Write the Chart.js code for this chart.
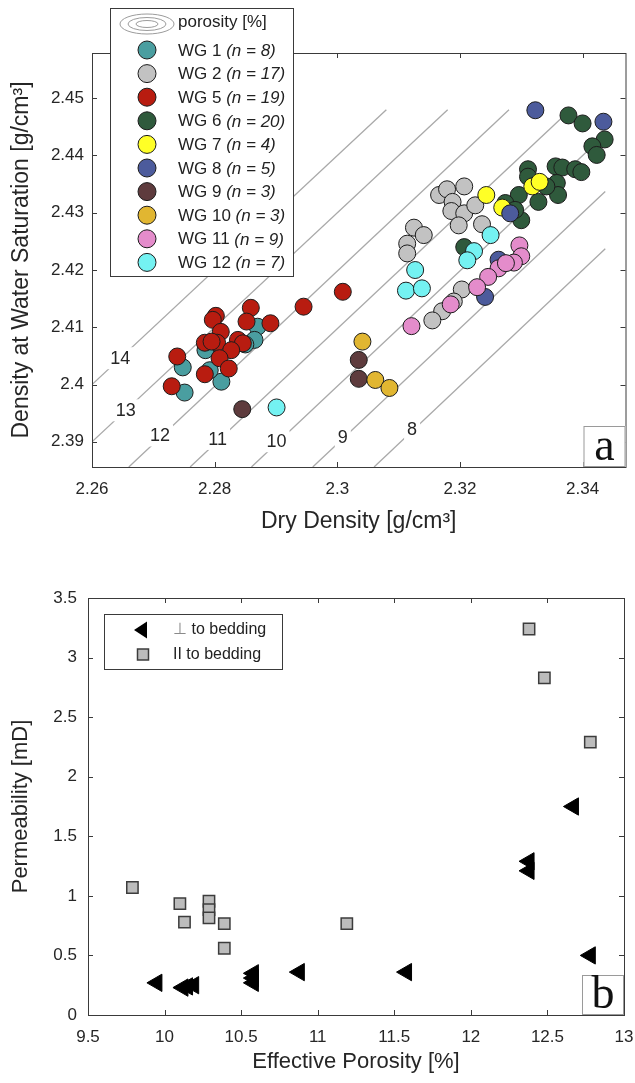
<!DOCTYPE html>
<html>
<head>
<meta charset="utf-8">
<script src="https://cdn.jsdelivr.net/npm/chart.js@4.4.0/dist/chart.umd.min.js"></script>
<style>
  body { margin: 0; background: #fff; }
  .box { position: absolute; left: 0; width: 635px; }
</style>
</head>
<body>
<div class="box" style="top:0;height:540px"><canvas id="densChart"></canvas></div>
<div class="box" style="top:540px;height:543px"><canvas id="permChart"></canvas></div>
<script>
// ---- panel a: densities ----
var xTicksTop = [2.26, 2.28, 2.30, 2.32, 2.34];
var yTicksTop = [2.39, 2.40, 2.41, 2.42, 2.43, 2.44, 2.45];

var wg1X = [2.2870, 2.2865, 2.2785, 2.2748, 2.2751, 2.2811, 2.2792, 2.2850];
var wg1Y = [2.4101, 2.4078, 2.4060, 2.4030, 2.3986, 2.4005, 2.4025, 2.4070];
var wg2X = [2.3166, 2.3179, 2.3207, 2.3188, 2.3186, 2.3207, 2.3198, 2.3225, 2.3236, 2.3125, 2.3141, 2.3114, 2.3114, 2.3203, 2.3171, 2.3155, 2.3190];
var wg2Y = [2.4331, 2.4341, 2.4346, 2.4319, 2.4303, 2.4299, 2.4278, 2.4313, 2.4280, 2.4274, 2.4261, 2.4246, 2.4229, 2.4166, 2.4128, 2.4112, 2.4145];
var wg5X = [2.3009, 2.2945, 2.2859, 2.2802, 2.2797, 2.2852, 2.2891, 2.2810, 2.2784, 2.2804, 2.2838, 2.2846, 2.2827, 2.2808, 2.2739, 2.2823, 2.2784, 2.2730, 2.2795];
var wg5Y = [2.4162, 2.4136, 2.4134, 2.4120, 2.4113, 2.4110, 2.4107, 2.4092, 2.4073, 2.4073, 2.4078, 2.4072, 2.4060, 2.4046, 2.4049, 2.4028, 2.4018, 2.3997, 2.4075];
var wg6X = [2.3377, 2.3400, 2.3436, 2.3416, 2.3423, 2.3311, 2.3356, 2.3367, 2.3388, 2.3398, 2.3358, 2.3360, 2.3296, 2.3328, 2.3274, 2.3300, 2.3207, 2.3341, 2.3311, 2.3290];
var wg6Y = [2.4470, 2.4456, 2.4428, 2.4416, 2.4401, 2.4376, 2.4381, 2.4379, 2.4376, 2.4371, 2.4352, 2.4331, 2.4331, 2.4319, 2.4317, 2.4287, 2.4240, 2.4346, 2.4363, 2.4305];
var wg7X = [2.3243, 2.3269, 2.3318, 2.3330];
var wg7Y = [2.4331, 2.4309, 2.4346, 2.4354];
var wg8X = [2.3323, 2.3434, 2.3282, 2.3263, 2.3241];
var wg8Y = [2.4479, 2.4459, 2.4299, 2.4218, 2.4153];
var wg9X = [2.2845, 2.3035, 2.3035];
var wg9Y = [2.3957, 2.4043, 2.4010];
var wg10X = [2.3041, 2.3062, 2.3085];
var wg10Y = [2.4075, 2.4008, 2.3994];
var wg11X = [2.3297, 2.3300, 2.3288, 2.3263, 2.3246, 2.3228, 2.3185, 2.3121, 2.3275];
var wg11Y = [2.4243, 2.4224, 2.4213, 2.4203, 2.4188, 2.4170, 2.4140, 2.4102, 2.4212];
var wg12X = [2.2901, 2.3127, 2.3112, 2.3138, 2.3250, 2.3223, 2.3212];
var wg12Y = [2.3960, 2.4200, 2.4164, 2.4168, 2.4261, 2.4233, 2.4217];

var groupNames = ['WG 1', 'WG 2', 'WG 5', 'WG 6', 'WG 7', 'WG 8', 'WG 9', 'WG 10', 'WG 11', 'WG 12'];
var groupN = [8, 17, 19, 20, 4, 5, 3, 3, 9, 7];
var groupColors = ['#4a9ea0', '#c2c2c2', '#b81c10', '#2f5a3c', '#ffff26', '#4c5b9c', '#5e3b3d', '#e1b631', '#e48ccb', '#74f2f2'];
var groupX = [wg1X, wg2X, wg5X, wg6X, wg7X, wg8X, wg9X, wg10X, wg11X, wg12X];
var groupY = [wg1Y, wg2Y, wg5Y, wg6Y, wg7Y, wg8Y, wg9Y, wg10Y, wg11Y, wg12Y];

// porosity contours
var contourLevels = [8, 9, 10, 11, 12, 13, 14];
var contourStartX = [2.3060, 2.2960, 2.2860, 2.2760, 2.2660, 2.2600, 2.2600];
var contourStartY = [2.3856, 2.3856, 2.3856, 2.3856, 2.3856, 2.3900, 2.4000];
var contourEndX = [2.3437, 2.3437, 2.3437, 2.3380, 2.3280, 2.3180, 2.3080];
var contourEndY = [2.4237, 2.4337, 2.4437, 2.4480, 2.4480, 2.4480, 2.4480];
var contourLabelX = [2.3122, 2.3009, 2.2901, 2.2805, 2.2711, 2.2655, 2.2646];
var contourLabelY = [2.3922, 2.3909, 2.3901, 2.3905, 2.3911, 2.3955, 2.4046];

// ---- panel b: permeability ----
var xTicksBot = [9.5, 10, 10.5, 11, 11.5, 12, 12.5, 13];
var yTicksBot = [0, 0.5, 1, 1.5, 2, 2.5, 3, 3.5];
var perpX = [9.95, 10.12, 10.15, 10.19, 10.58, 10.58, 10.58, 10.88, 11.58, 12.38, 12.38, 12.67, 12.78];
var perpY = [0.27, 0.23, 0.24, 0.25, 0.35, 0.31, 0.27, 0.36, 0.36, 1.29, 1.21, 1.75, 0.50];
var parX = [9.79, 10.10, 10.13, 10.29, 10.29, 10.29, 10.39, 10.39, 11.19, 12.38, 12.48, 12.78];
var parY = [1.07, 0.935, 0.78, 0.955, 0.885, 0.815, 0.767, 0.56, 0.767, 3.24, 2.83, 2.29];

var textColor = '#262626';
var frameColor = '#3a3a3a';
var sans = '"Liberation Sans", Arial, sans-serif';

function fmt(v) { return String(parseFloat(v.toFixed(2))); }
function pts(xs, ys) {
  var out = [];
  for (var i = 0; i < xs.length; i++) out.push({x: xs[i], y: ys[i]});
  return out;
}

// box + inward ticks, MATLAB style
function drawFrame(chart) {
  var ctx = chart.ctx, ca = chart.chartArea;
  var xs = chart.scales.x, ys = chart.scales.y;
  ctx.save();
  ctx.strokeStyle = frameColor;
  ctx.lineWidth = 1;
  ctx.strokeRect(ca.left + 0.5, ca.top + 0.5, ca.right - ca.left, ca.bottom - ca.top);
  ctx.beginPath();
  xs.ticks.forEach(function(t) {
    var px = Math.round(xs.getPixelForValue(t.value)) + 0.5;
    if (px < ca.left + 2 || px > ca.right - 2) return;
    ctx.moveTo(px, ca.bottom); ctx.lineTo(px, ca.bottom - 5);
    ctx.moveTo(px, ca.top); ctx.lineTo(px, ca.top + 5);
  });
  ys.ticks.forEach(function(t) {
    var py = Math.round(ys.getPixelForValue(t.value)) + 0.5;
    if (py < ca.top + 2 || py > ca.bottom - 2) return;
    ctx.moveTo(ca.left, py); ctx.lineTo(ca.left + 5, py);
    ctx.moveTo(ca.right, py); ctx.lineTo(ca.right - 5, py);
  });
  ctx.stroke();
  ctx.restore();
}

function panelLetter(chart, letter, w, h) {
  var ctx = chart.ctx, ca = chart.chartArea;
  ctx.save();
  ctx.fillStyle = '#fff';
  ctx.fillRect(ca.right - w, ca.bottom - h, w, h);
  ctx.strokeStyle = '#9a9a9a';
  ctx.lineWidth = 1;
  ctx.strokeRect(ca.right - w + 0.5, ca.bottom - h + 0.5, w - 1, h - 1);
  ctx.fillStyle = '#111';
  ctx.font = '46px "Liberation Serif", "Times New Roman", serif';
  ctx.textAlign = 'center';
  ctx.textBaseline = 'alphabetic';
  ctx.fillText(letter, ca.right - w / 2, ca.bottom - 7);
  ctx.restore();
}

function scaleBase(ticksArr, min, max, fitSize, pad, titleText, titlePad, titleSize, horizontal) {
  return {
    type: 'linear',
    min: min, max: max,
    afterBuildTicks: function(s) { s.ticks = ticksArr.map(function(v) { return {value: v}; }); },
    afterFit: function(s) {
      if (horizontal) s.height = fitSize; else s.width = fitSize;
      s.paddingLeft = 0; s.paddingRight = 0; s.paddingTop = 0; s.paddingBottom = 0;
    },
    grid: {display: false, drawTicks: false},
    border: {display: false},
    ticks: {
      autoSkip: false, maxRotation: 0, padding: pad, color: textColor,
      font: {family: sans, size: 17},
      callback: function(v) { return fmt(v); }
    },
    title: {
      display: true, text: titleText, color: textColor,
      font: {family: sans, size: titleSize},
      padding: titlePad
    }
  };
}

// ---------- chart a ----------
var datasetsA = [];
contourLevels.forEach(function(lv, i) {
  datasetsA.push({
    type: 'line',
    label: 'p' + lv,
    data: [{x: contourStartX[i], y: contourStartY[i]}, {x: contourEndX[i], y: contourEndY[i]}],
    borderColor: '#a9a9a9', borderWidth: 1.3, pointRadius: 0, fill: false,
    order: 100
  });
});
groupNames.forEach(function(name, i) {
  datasetsA.push({
    type: 'scatter',
    label: name,
    data: pts(groupX[i], groupY[i]),
    backgroundColor: groupColors[i],
    borderColor: '#1c1c1c', borderWidth: 1,
    pointRadius: 8.5, pointHoverRadius: 8.5,
    order: 20 - i
  });
});

var contourLabelPlugin = {
  id: 'contourLabels',
  afterDatasetsDraw: function(chart) {
    var ctx = chart.ctx, xs = chart.scales.x, ys = chart.scales.y;
    ctx.save();
    ctx.font = '18px ' + sans;
    ctx.textAlign = 'center';
    ctx.textBaseline = 'middle';
    contourLevels.forEach(function(lv, i) {
      var px = xs.getPixelForValue(contourLabelX[i]);
      var py = ys.getPixelForValue(contourLabelY[i]);
      var w = ctx.measureText(String(lv)).width + 6;
      ctx.fillStyle = '#fff';
      ctx.fillRect(px - w / 2, py - 11, w, 22);
      ctx.fillStyle = textColor;
      ctx.fillText(String(lv), px, py + 1);
    });
    ctx.restore();
  }
};

var frameA = {
  id: 'frameA',
  afterDraw: function(chart) {
    drawFrame(chart);
    panelLetter(chart, 'a', 42, 41);
    // legend
    var ctx = chart.ctx;
    var lx = 110, ly = 8, lw = 183, lh = 268;
    ctx.save();
    ctx.fillStyle = '#fff';
    ctx.fillRect(lx, ly, lw, lh);
    ctx.strokeStyle = frameColor;
    ctx.lineWidth = 1;
    ctx.strokeRect(lx + 0.5, ly + 0.5, lw, lh);
    // contour icon
    ctx.strokeStyle = '#9c9c9c';
    ctx.lineWidth = 1;
    [[27, 10], [19, 6.5], [11, 3.5]].forEach(function(r) {
      ctx.beginPath();
      ctx.ellipse(147, 24, r[0], r[1], 0, 0, Math.PI * 2);
      ctx.stroke();
    });
    ctx.fillStyle = '#222';
    ctx.textBaseline = 'middle';
    ctx.font = '17px ' + sans;
    ctx.fillText('porosity [%]', 178, 22);
    groupNames.forEach(function(name, i) {
      var yc = 50 + i * 23.6;
      ctx.beginPath();
      ctx.arc(147, yc, 9, 0, Math.PI * 2);
      ctx.fillStyle = groupColors[i];
      ctx.fill();
      ctx.strokeStyle = '#1c1c1c';
      ctx.stroke();
      ctx.fillStyle = '#222';
      ctx.font = '17px ' + sans;
      var t1 = name + ' ';
      ctx.fillText(t1, 178, yc + 1);
      var w1 = ctx.measureText(t1).width;
      ctx.font = 'italic 17px ' + sans;
      ctx.fillText('(n = ' + groupN[i] + ')', 178 + w1, yc + 1);
    });
    ctx.restore();
  }
};

new Chart(document.getElementById('densChart'), {
  type: 'scatter',
  data: {datasets: datasetsA},
  options: {
    responsive: true, maintainAspectRatio: false, animation: false,
    layout: {padding: {top: 53, right: 5, left: 0, bottom: 0}},
    plugins: {legend: {display: false}, tooltip: {enabled: false}},
    scales: {
      x: scaleBase(xTicksTop, 2.26, 2.347, 73, 12, 'Dry Density [g/cm\u00b3]', {top: 0, bottom: 5}, 23, true),
      y: scaleBase(yTicksTop, 2.3856, 2.4579, 92, 8, 'Density at Water Saturation [g/cm\u00b3]', {top: 8, bottom: 0}, 23, false)
    }
  },
  plugins: [contourLabelPlugin, frameA]
});

// ---------- chart b ----------
var frameB = {
  id: 'frameB',
  afterDraw: function(chart) {
    drawFrame(chart);
    panelLetter(chart, 'b', 42, 40);
    var ctx = chart.ctx;
    var lx = 104, ly = 74, lw = 178, lh = 55;
    ctx.save();
    ctx.fillStyle = '#fff';
    ctx.fillRect(lx, ly, lw, lh);
    ctx.strokeStyle = frameColor;
    ctx.lineWidth = 1;
    ctx.strokeRect(lx + 0.5, ly + 0.5, lw, lh);
    // triangle marker
    ctx.fillStyle = '#000';
    ctx.beginPath();
    ctx.moveTo(134, 90);
    ctx.lineTo(147, 81.5);
    ctx.lineTo(147, 98.5);
    ctx.closePath();
    ctx.fill();
    // square marker
    ctx.fillStyle = '#bcbcbc';
    ctx.strokeStyle = '#3c3c3c';
    ctx.lineWidth = 1.5;
    ctx.fillRect(137.5, 109, 11, 11);
    ctx.strokeRect(137.5, 109, 11, 11);
    ctx.textBaseline = 'middle';
    ctx.font = '16px ' + sans;
    ctx.fillStyle = '#8a8a8a';
    ctx.fillText('\u22a5', 173, 90);
    var wp = ctx.measureText('\u22a5 ').width;
    ctx.fillStyle = '#222';
    ctx.fillText('to bedding', 173 + wp, 90);
    ctx.fillText('II to bedding', 173, 115);
    ctx.restore();
  }
};

new Chart(document.getElementById('permChart'), {
  type: 'scatter',
  data: {
    datasets: [
      {
        label: '\u22a5 to bedding',
        data: pts(perpX, perpY),
        pointStyle: 'triangle', rotation: -90,
        backgroundColor: '#000', borderColor: '#000', borderWidth: 1,
        pointRadius: 10, pointHoverRadius: 10
      },
      {
        label: 'II to bedding',
        data: pts(parX, parY),
        pointStyle: 'rect',
        backgroundColor: '#bcbcbc', borderColor: '#3c3c3c', borderWidth: 1.5,
        pointRadius: 8, pointHoverRadius: 8
      }
    ]
  },
  options: {
    responsive: true, maintainAspectRatio: false, animation: false,
    layout: {padding: {top: 58, right: 4, left: 0, bottom: 0}},
    plugins: {legend: {display: false}, tooltip: {enabled: false}},
    scales: {
      x: scaleBase(xTicksBot, 9.5, 13, 68, 12, 'Effective Porosity [%]', {top: 0, bottom: 8}, 22, true),
      y: scaleBase(yTicksBot, 0, 3.5, 88, 11, 'Permeability [mD]', {top: 8, bottom: 0}, 22, false)
    }
  },
  plugins: [frameB]
});
</script>
</body>
</html>
